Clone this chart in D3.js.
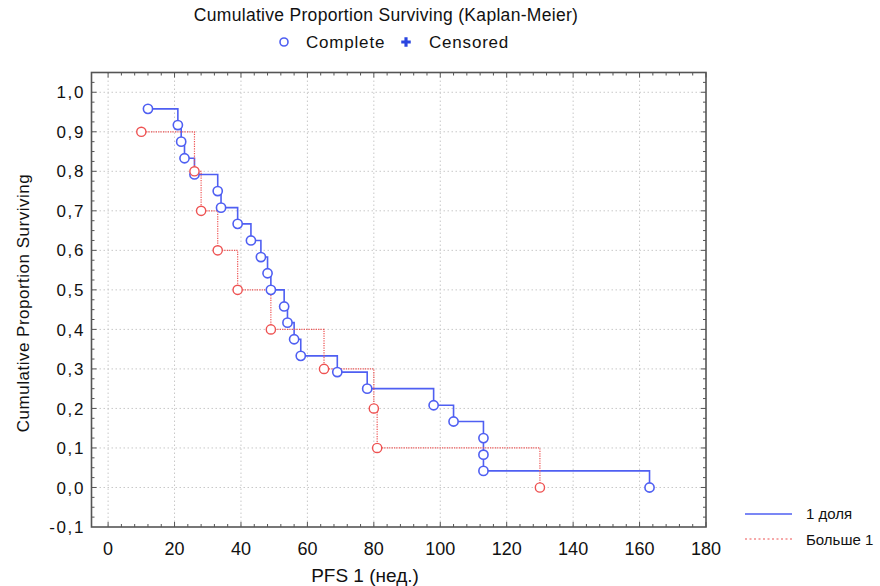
<!DOCTYPE html>
<html>
<head>
<meta charset="utf-8">
<script src="https://cdn.jsdelivr.net/npm/d3@7"></script>
<style>
  html, body { margin: 0; padding: 0; background: #fff; }
  svg text { font-family: "Liberation Sans", Arial, Helvetica, sans-serif; fill: #111; }
</style>
</head>
<body>
<svg id="chart" width="880" height="586"></svg>
<script>
// Kaplan-Meier estimates: event times (weeks) and cumulative proportion surviving
const groupNames = ["1 доля", "Больше 1"];
const oneLobeTimes = [12, 21, 22, 23, 26, 33, 34, 39, 43, 46, 48, 49, 53, 54, 56, 58, 69, 78, 98, 104, 113, 113, 113, 163];
const oneLobeSurv  = [0.958, 0.917, 0.875, 0.833, 0.792, 0.750, 0.708, 0.667, 0.625, 0.583, 0.542, 0.500, 0.458, 0.417, 0.375, 0.333, 0.292, 0.250, 0.208, 0.167, 0.125, 0.083, 0.042, 0.000];
const multiLobeTimes = [10, 26, 28, 33, 39, 49, 65, 80, 81, 130];
const multiLobeSurv  = [0.9, 0.8, 0.7, 0.6, 0.5, 0.4, 0.3, 0.2, 0.1, 0.0];
const xTicks = [0, 20, 40, 60, 80, 100, 120, 140, 160, 180];
const yTicks = [-0.1, 0, 0.1, 0.2, 0.3, 0.4, 0.5, 0.6, 0.7, 0.8, 0.9, 1.0];

const BLUE = "#4f5ff2";
const RED = "#ee5252";

const svg = d3.select("#chart");
const pLeft = 91.5, pRight = 706, pTop = 72.5, pBottom = 527;

const x = d3.scaleLinear().domain([-5, 180]).range([pLeft, pRight]);
const y = d3.scaleLinear().domain([-0.1, 1.05]).range([pBottom, pTop]);

// dotted grid
const grid = svg.append("g");
grid.selectAll("line.v").data(xTicks.filter(d => d < 180)).join("line")
  .attr("x1", d => x(d)).attr("x2", d => x(d)).attr("y1", pTop).attr("y2", pBottom)
  .attr("stroke", "#c8c8c8").attr("stroke-width", 1).attr("stroke-dasharray", "1.5,2.5");
grid.selectAll("line.h").data(yTicks.filter(d => d > -0.1)).join("line")
  .attr("x1", pLeft).attr("x2", pRight).attr("y1", d => y(d)).attr("y2", d => y(d))
  .attr("stroke", "#c8c8c8").attr("stroke-width", 1).attr("stroke-dasharray", "1.5,2.5");

// inward ticks on all four sides
const xMinor = d3.range(0, 181, 4);
const yMinor = d3.range(-0.075, 1.04, 0.025);
const tk = svg.append("g").attr("stroke", "#555").attr("stroke-width", 1);
xMinor.forEach(v => {
  const len = (v % 20 === 0) ? 5 : 3;
  tk.append("line").attr("x1", x(v)).attr("x2", x(v)).attr("y1", pBottom).attr("y2", pBottom - len);
  tk.append("line").attr("x1", x(v)).attr("x2", x(v)).attr("y1", pTop).attr("y2", pTop + len);
});
yMinor.forEach(v => {
  const major = Math.abs(Math.round(v * 10) - v * 10) < 1e-6;
  const len = major ? 5 : 3;
  tk.append("line").attr("x1", pLeft).attr("x2", pLeft + len).attr("y1", y(v)).attr("y2", y(v));
  tk.append("line").attr("x1", pRight).attr("x2", pRight - len).attr("y1", y(v)).attr("y2", y(v));
});

// frame
svg.append("rect").attr("x", pLeft).attr("y", pTop).attr("width", pRight - pLeft).attr("height", pBottom - pTop)
  .attr("fill", "none").attr("stroke", "#555").attr("stroke-width", 1.6);

// axis labels
const fmt = d => d.toFixed(1).replace(".", ",");
svg.append("g").selectAll("text").data(yTicks).join("text")
  .attr("x", 85).attr("y", d => y(d)).attr("dy", "0.36em")
  .attr("text-anchor", "end").style("font-size", "17px").style("letter-spacing", "1.6px").text(fmt);
svg.append("g").selectAll("text").data(xTicks).join("text")
  .attr("x", d => x(d)).attr("y", 555)
  .attr("text-anchor", "middle").style("font-size", "18px")
  .style("font-family", "'Liberation Sans Narrow', 'Arial Narrow', sans-serif").text(d => d);

svg.append("text").attr("x", 365).attr("y", 582).attr("text-anchor", "middle")
  .style("font-size", "19px").style("font-family", "'Liberation Sans Narrow', 'Arial Narrow', sans-serif")
  .text("PFS 1 (нед.)");
svg.append("text").attr("transform", "translate(29,303) rotate(-90)").attr("text-anchor", "middle")
  .style("font-size", "17px").style("letter-spacing", "0.5px").text("Cumulative Proportion Surviving");

// title and marker legend
svg.append("text").attr("x", 386).attr("y", 21).attr("text-anchor", "middle")
  .style("font-size", "17.5px").style("letter-spacing", "0.3px")
  .text("Cumulative Proportion Surviving (Kaplan-Meier)");
svg.append("circle").attr("cx", 284).attr("cy", 42).attr("r", 4)
  .attr("fill", "#fff").attr("stroke", BLUE).attr("stroke-width", 1.6);
svg.append("text").attr("x", 306).attr("y", 48).style("font-size", "17px").style("letter-spacing", "0.8px").text("Complete");
svg.append("path").attr("d", d3.symbol(d3.symbolCross, 50)()).attr("transform", "translate(406,42)")
  .attr("fill", "#2a45e0");
svg.append("text").attr("x", 429).attr("y", 48).style("font-size", "17px").style("letter-spacing", "0.8px").text("Censored");

// survival steps
const line = d3.line().curve(d3.curveStepAfter).x(d => x(d[0])).y(d => y(d[1]));
const blueData = oneLobeTimes.map((t, i) => [t, oneLobeSurv[i]]);
const redData = multiLobeTimes.map((t, i) => [t, multiLobeSurv[i]]);

svg.append("path").datum(blueData).attr("d", line)
  .attr("fill", "none").attr("stroke", BLUE).attr("stroke-width", 1.6);
svg.append("path").datum(redData).attr("d", line)
  .attr("fill", "none").attr("stroke", RED).attr("stroke-width", 1.2).attr("stroke-dasharray", "1.2,1.2");

svg.append("g").selectAll("circle").data(blueData).join("circle")
  .attr("cx", d => x(d[0])).attr("cy", d => y(d[1])).attr("r", 4.6)
  .attr("fill", "#fff").attr("stroke", BLUE).attr("stroke-width", 1.6);
svg.append("g").selectAll("circle").data(redData).join("circle")
  .attr("cx", d => x(d[0])).attr("cy", d => y(d[1])).attr("r", 4.6)
  .attr("fill", "#fff").attr("stroke", RED).attr("stroke-width", 1.4);

// group legend
const lg = svg.append("g");
lg.append("line").attr("x1", 745).attr("x2", 792).attr("y1", 514).attr("y2", 514)
  .attr("stroke", BLUE).attr("stroke-width", 1.4);
lg.append("line").attr("x1", 745).attr("x2", 792).attr("y1", 539).attr("y2", 539)
  .attr("stroke", RED).attr("stroke-width", 1.2).attr("stroke-dasharray", "2,2.5");
lg.selectAll("text").data(groupNames).join("text")
  .attr("x", 806).attr("y", (d, i) => 519 + i * 26).style("font-size", "15px").text(d => d);
</script>
</body>
</html>
